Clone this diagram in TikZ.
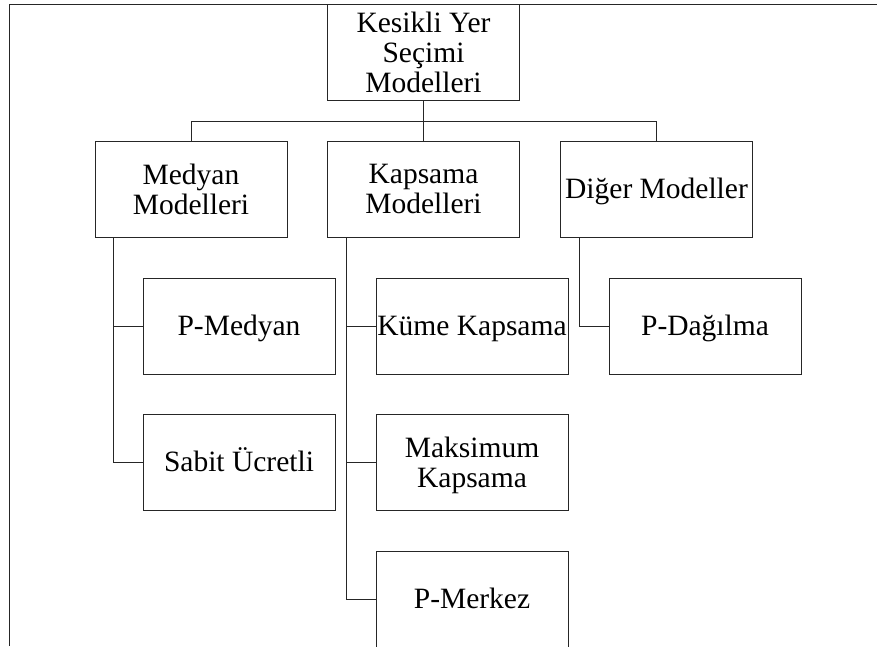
\documentclass[tikz,border=0pt]{standalone}
\usepackage{fontspec}
\setmainfont{Liberation Serif}
% last line of a box: cap height only, no descender, so text centres on its capitals
\newcommand\capline[1]{\vphantom{M}\smash{#1}}
\begin{document}
\begin{tikzpicture}[x=1pt,y=-1pt,
  box/.style={draw=black!85,line width=1pt,rectangle,minimum width=192pt,
    minimum height=96pt,inner sep=0pt,align=center,
    font=\fontsize{29.5}{30}\selectfont},
  link/.style={draw=black!85,line width=1pt}]
\useasboundingbox (0,0) rectangle (877,646);
\clip (0,0) rectangle (877,646);

% outer frame (left and top edges)
\draw[link] (9,646) -- (9,4) -- (877,4);

% root
\node[box] (root) at (423.5,52) {Kesikli Yer\\Seçimi\\\capline{Modelleri}};

% second level
\node[box] (med) at (191,189)   {Medyan\\\capline{Modelleri}};
\node[box] (kap) at (423.5,189) {Kapsama\\\capline{Modelleri}};
\node[box] (dig) at (656.5,189) {\capline{Diğer Modeller}};

% third level
\node[box] (pmed)  at (239,326) {\capline{P-Medyan}};
\node[box] (sabit) at (239,462) {\capline{Sabit Ücretli}};
\node[box] (kume)  at (472,326) {\capline{Küme Kapsama}};
\node[box] (maks)  at (472,462) {Maksimum\\\capline{Kapsama}};
\node[box] (pmer)  at (472,599) {\capline{P-Merkez}};
\node[box] (pdag)  at (705,326) {\capline{P-Dağılma}};

% bus between the levels
\coordinate (bus) at (0,121);
\draw[link] (root.south) -- (root.south |- bus);
\draw[link] (med.north |- bus) -- (dig.north |- bus);
\draw[link] (med.north) -- (med.north |- bus);
\draw[link] (kap.north) -- (kap.north |- bus);
\draw[link] (dig.north) -- (dig.north |- bus);

% branches to the third level
\draw[link] ([xshift=19pt]med.south west) |- (pmed.west);
\draw[link] ([xshift=19pt]med.south west) |- (sabit.west);
\draw[link] ([xshift=19.5pt]kap.south west) |- (kume.west);
\draw[link] ([xshift=19.5pt]kap.south west) |- (maks.west);
\draw[link] ([xshift=19.5pt]kap.south west) |- (pmer.west);
\draw[link] ([xshift=19.5pt]dig.south west) |- (pdag.west);
\end{tikzpicture}
\end{document}
